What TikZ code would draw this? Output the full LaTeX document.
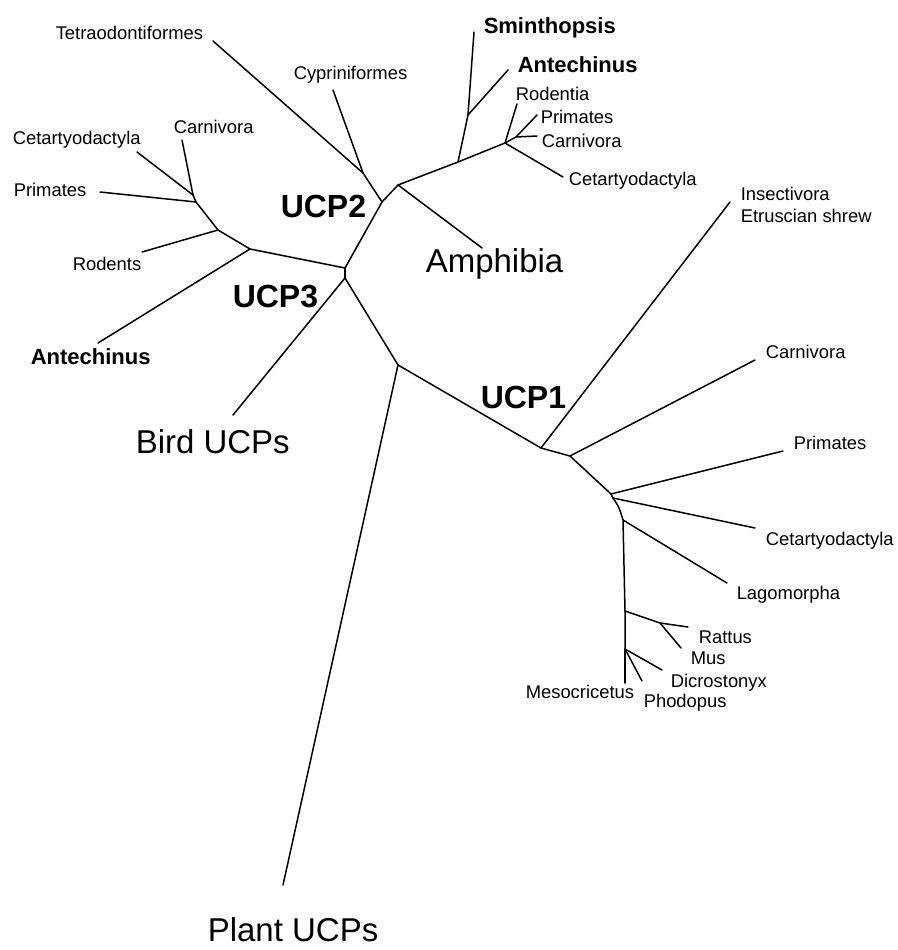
\documentclass[tikz,border=0pt]{standalone}
\usepackage{fontspec}
\setmainfont{Liberation Sans}
\begin{document}
\begin{tikzpicture}[x=1pt,y=-1pt,line width=1.5pt,line cap=round,line join=round,
    taxon/.style={anchor=base west,inner sep=0pt,font=\fontsize{18.4}{20}\selectfont},
    marsupial/.style={taxon,font=\fontsize{22}{24}\selectfont\bfseries},
    family/.style={anchor=base west,inner sep=0pt,font=\fontsize{33}{36}\selectfont},
    ucp/.style={family,font=\fontsize{32}{36}\selectfont\bfseries}]
    \useasboundingbox (0,0) rectangle (897,950);
    % branch points
    \coordinate (root) at (345,268);
    \coordinate (base) at (345,278);
    \coordinate (u3) at (250,249);
    \coordinate (n2) at (218,230);
    \coordinate (n1) at (196,202);
    \coordinate (n0) at (193,195);
    \coordinate (u2) at (382,202);
    \coordinate (fish) at (363,173);
    \coordinate (amph) at (398,185);
    \coordinate (m1) at (458,162);
    \coordinate (m2) at (468,115);
    \coordinate (m3) at (505,143);
    \coordinate (m4) at (516,137);
    \coordinate (pl) at (398,365);
    \coordinate (u1) at (541,448);
    \coordinate (k1) at (570,456);
    \coordinate (k2) at (611,494);
    \coordinate (k3) at (613,498);
    \coordinate (k4) at (623,520);
    \coordinate (r1) at (625,611);
    \coordinate (r2) at (660,623);
    \coordinate (r3) at (625,649);
    % tips
    \coordinate (carnL) at (182,140);
    \coordinate (cetL) at (137,152);
    \coordinate (primL) at (100,192);
    \coordinate (rodL) at (142,252);
    \coordinate (antL) at (98,343);
    \coordinate (tetraTip) at (213,41);
    \coordinate (cyprTip) at (333,90);
    \coordinate (amphTip) at (482,248);
    \coordinate (smiTip) at (474,32);
    \coordinate (antTip) at (508,70);
    \coordinate (rodTip) at (517,104);
    \coordinate (primTip) at (537,115);
    \coordinate (carnTip) at (537,136);
    \coordinate (cetTip) at (563,177);
    \coordinate (birdTip) at (233,415);
    \coordinate (plantTip) at (283,885);
    \coordinate (insTip) at (730,202);
    \coordinate (carnR) at (755,360);
    \coordinate (primR) at (783,451);
    \coordinate (cetR) at (755,528);
    \coordinate (lagTip) at (727,583);
    \coordinate (rattTip) at (688,627);
    \coordinate (musTip) at (681,648);
    \coordinate (dicTip) at (662,670);
    \coordinate (phoTip) at (642,681);
    \coordinate (mesTip) at (625,683);

    % UCP3
    \draw (root) -- (u3) -- (n2) -- (n1) -- (n0) -- (carnL);
    \draw (n0) -- (cetL);
    \draw (n1) -- (primL);
    \draw (n2) -- (rodL);
    \draw (u3) -- (antL);
    % UCP2
    \draw (root) -- (base);
    \draw (root) -- (u2) -- (fish) -- (tetraTip);
    \draw (fish) -- (cyprTip);
    \draw (u2) -- (amph) -- (amphTip);
    \draw (amph) -- (m1) -- (m3) -- (cetTip);
    \draw (m1) -- (m2) -- (smiTip);
    \draw (m2) -- (antTip);
    \draw (m3) -- (rodTip);
    \draw (m3) -- (m4) -- (primTip);
    \draw (m4) -- (carnTip);
    % birds, plants, UCP1
    \draw (base) -- (birdTip);
    \draw (base) -- (pl) -- (plantTip);
    \draw (pl) -- (u1) -- (insTip);
    \draw (u1) -- (k1) -- (carnR);
    \draw (k1) -- (k2) -- (primR);
    \draw (k2) -- (k3) -- (cetR);
    \draw (k3) .. controls (619,507) .. (k4) -- (lagTip);
    \draw (k4) -- (r1) -- (r2) -- (rattTip);
    \draw (r2) -- (musTip);
    \draw (r1) -- (r3) -- (dicTip);
    \draw (r3) -- (phoTip);
    \draw (r3) -- (mesTip);

    % labels
    \node[taxon] (tetraodontiformes) at (55,40) {Tetraodontiformes};
    \node[taxon] (cypriniformes) at (293,80) {Cypriniformes};
    \node[taxon] (cetartyodactylaL) at (12,144) {Cetartyodactyla};
    \node[taxon] (carnivoraL) at (173,133) {Carnivora};
    \node[taxon] (primatesL) at (13,196) {Primates};
    \node[taxon] (rodents) at (72,270) {Rodents};
    \node[marsupial] (antechinusL) at (30,364) {Antechinus};
    \node[ucp] (ucp2) at (280,217) {UCP2};
    \node[ucp] (ucp3) at (232,307) {UCP3};
    \node[family] (bird) at (135,453) {Bird UCPs};
    \node[marsupial] (sminthopsis) at (483,34) {Sminthopsis};
    \node[marsupial] (antechinus) at (517,72) {Antechinus};
    \node[taxon] (rodentia) at (515,100) {Rodentia};
    \node[taxon] (primates) at (540,123) {Primates};
    \node[taxon] (carnivora) at (541,147) {Carnivora};
    \node[taxon] (cetartyodactyla) at (568,185) {Cetartyodactyla};
    \node[family] (amphibia) at (425,272) {Amphibia};
    \node[taxon] (insectivora) at (740,200) {Insectivora};
    \node[taxon] (shrew) at (740,222) {Etruscian shrew};
    \node[ucp] (ucp1) at (480,408) {UCP1};
    \node[taxon] (carnivoraR) at (765,358) {Carnivora};
    \node[taxon] (primatesR) at (793,449) {Primates};
    \node[taxon] (cetartyodactylaR) at (765,545) {Cetartyodactyla};
    \node[taxon] (lagomorpha) at (736,599) {Lagomorpha};
    \node[taxon] (rattus) at (698,643) {Rattus};
    \node[taxon] (mus) at (690,664) {Mus};
    \node[taxon] (dicrostonyx) at (670,687) {Dicrostonyx};
    \node[taxon] (mesocricetus) at (525,698) {Mesocricetus};
    \node[taxon] (phodopus) at (643,707) {Phodopus};
    \node[family] (plant) at (207,941) {Plant UCPs};
\end{tikzpicture}
\end{document}
